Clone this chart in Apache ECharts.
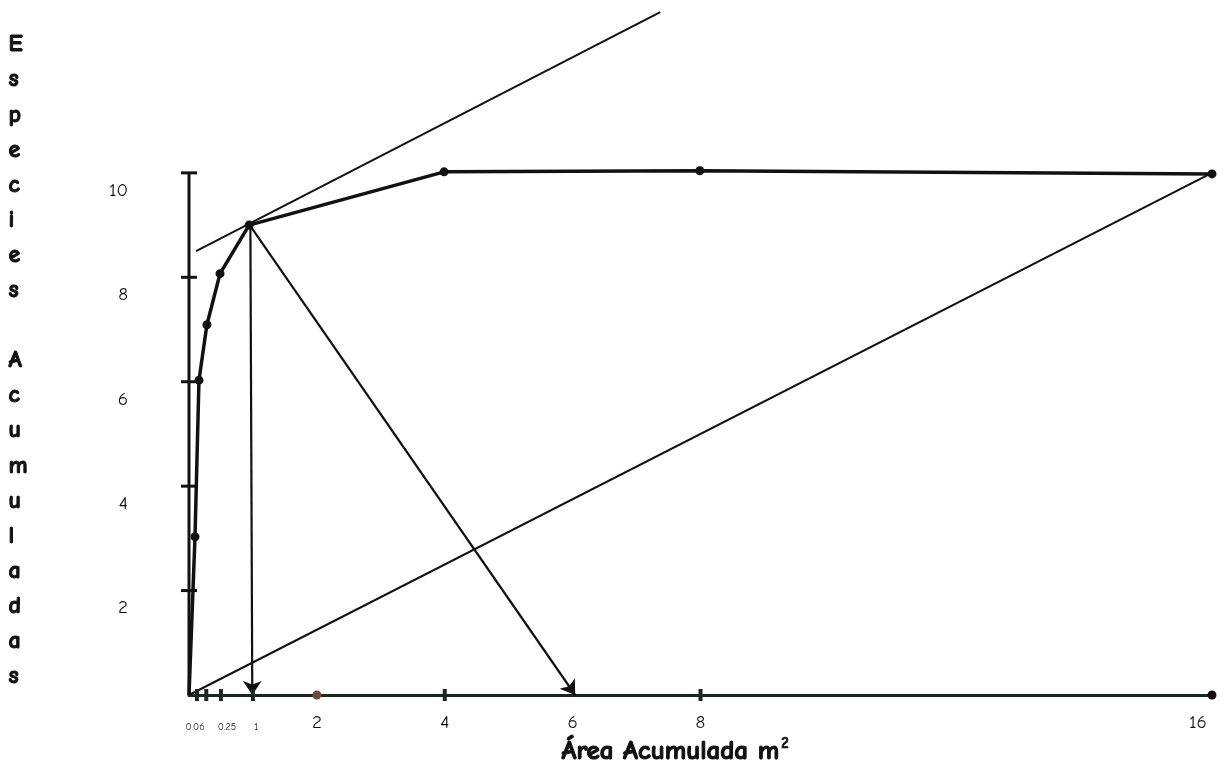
<!DOCTYPE html>
<html>
<head>
<meta charset="utf-8">
<title>Especies acumuladas</title>
<script src="https://cdn.jsdelivr.net/npm/echarts@6/dist/echarts.min.js"></script>
<style>
  html, body { margin: 0; padding: 0; background: #fff; }
  #chart { width: 1229px; height: 774px; }
</style>
</head>
<body>
<div id="chart"></div>
<script>
// species-area curve, values
const curveX = [0, 0.094, 0.156, 0.28, 0.485, 0.94, 3.99, 7.99, 16];
const curveY = [0, 3.03, 6.03, 7.09, 8.07, 9.0, 10.02, 10.04, 9.98];

// x axis labels (position on the axis, text shown)
const xLabelPos = [0.094, 0.594, 1.05, 2, 4, 6, 8, 15.78];
const xLabelText = ['0.06', '0.25', '1', '2', '4', '6', '8', '16'];
const xTicks = [0.125, 0.27, 0.5, 1, 4, 8];
const xDots = [2, 16];

const yLabels = [2, 4, 6, 8, 10];
const yAxisTop = 10;

// construction lines
const tangent = [[0.11, 8.5], [7.37, 13.08]];
const diagonal = [[0, 0], [16, 10]];
const arrowDown = [[0.96, 9], [0.99, 0]];
const arrowSlope = [[0.95, 9], [6.04, 0]];

const INK = '#111';
const FONT = '"Comic Sans MS", "Comic Neue", "DejaVu Sans", sans-serif';

const chart = echarts.init(document.getElementById('chart'));

const smallLabels = ['0.06', '0.25', '1'];

const option = {
    backgroundColor: '#fff',
    animation: false,
    grid: {
        left: 189,
        right: 17,
        top: 11,
        bottom: 79
    },
    xAxis: {
        type: 'value',
        min: 0,
        max: 16,
        splitLine: { show: false },
        axisTick: { show: false },
        axisLine: {
            show: true,
            onZero: false,
            lineStyle: { color: '#1a2620', width: 3 }
        },
        axisLabel: {
            customValues: xLabelPos,
            margin: 18,
            color: INK,
            fontFamily: FONT,
            fontSize: 19,
            formatter: value => {
                const i = xLabelPos.indexOf(value);
                const txt = i >= 0 ? xLabelText[i] : '';
                return smallLabels.indexOf(txt) >= 0 ? `{s|${txt}}` : txt;
            },
            rich: {
                s: {
                    fontSize: 10,
                    fontFamily: FONT,
                    color: INK,
                    padding: [9, 0, 0, 0]
                }
            }
        }
    },
    yAxis: {
        type: 'value',
        min: 0,
        max: 13.1,
        splitLine: { show: false },
        axisTick: { show: false },
        axisLine: { show: false },
        axisLabel: {
            customValues: yLabels,
            margin: 61,
            color: INK,
            fontFamily: FONT,
            fontSize: 19,
            verticalAlign: 'top',
            padding: [8, 0, 0, 0]
        }
    },
    graphic: [
        {
            type: 'text',
            left: 8,
            top: 27,
            style: {
                text: 'E\ns\np\ne\nc\ni\ne\ns\n\nA\nc\nu\nm\nu\nl\na\nd\na\ns',
                fontFamily: FONT,
                fontWeight: 'bold',
                fontSize: 24,
                lineHeight: 35.1,
                fill: INK,
                stroke: INK,
                lineWidth: 1,
                align: 'center'
            }
        },
        {
            type: 'text',
            left: 561,
            top: 736,
            style: {
                text: '{t|Área Acumulada m}{sup|2}',
                rich: {
                    t: {
                        fontFamily: FONT,
                        fontWeight: 'bold',
                        fontSize: 27,
                        fill: INK,
                        stroke: INK,
                        lineWidth: 1.1
                    },
                    sup: {
                        fontFamily: FONT,
                        fontWeight: 'bold',
                        fontSize: 15,
                        fill: INK,
                        stroke: INK,
                        lineWidth: 0.7,
                        padding: [0, 0, 16, 2]
                    }
                }
            }
        }
    ],
    series: [
        {
            // vertical axis drawn only up to 10
            type: 'line',
            data: [[0, 0], [0, yAxisTop]],
            symbol: 'none',
            lineStyle: { color: INK, width: 3 },
            z: 3
        },
        {
            type: 'scatter',
            data: yLabels.map(v => [0, v]),
            symbol: 'rect',
            symbolSize: [16, 3],
            itemStyle: { color: INK, opacity: 1 },
            z: 3
        },
        {
            type: 'scatter',
            data: xTicks.map(v => [v, 0]),
            symbol: 'rect',
            symbolSize: [4, 12],
            itemStyle: { color: '#1a2620', opacity: 1 },
            z: 3
        },
        {
            type: 'scatter',
            data: xDots.map((v, i) => ({
                value: [v, 0],
                itemStyle: { color: i === 0 ? '#6b4a3c' : INK, opacity: 1 }
            })),
            symbol: 'circle',
            symbolSize: 9,
            z: 3
        },
        {
            type: 'lines',
            coordinateSystem: 'cartesian2d',
            polyline: false,
            lineStyle: { color: INK, width: 2, opacity: 1 },
            symbol: ['none', 'none'],
            data: [{ coords: tangent }, { coords: diagonal }],
            z: 2
        },
        {
            type: 'lines',
            coordinateSystem: 'cartesian2d',
            lineStyle: { color: INK, width: 2.2, opacity: 1 },
            symbol: ['none', 'arrow'],
            symbolSize: 14,
            data: [{ coords: arrowDown }, { coords: arrowSlope }],
            z: 2
        },
        {
            type: 'line',
            data: curveX.map((x, i) => ({
                value: [x, curveY[i]],
                symbol: i === 0 ? 'none' : 'circle'
            })),
            symbolSize: 9,
            itemStyle: { color: INK },
            lineStyle: { color: INK, width: 3.5 },
            z: 4
        }
    ]
};

chart.setOption(option);
</script>
</body>
</html>
